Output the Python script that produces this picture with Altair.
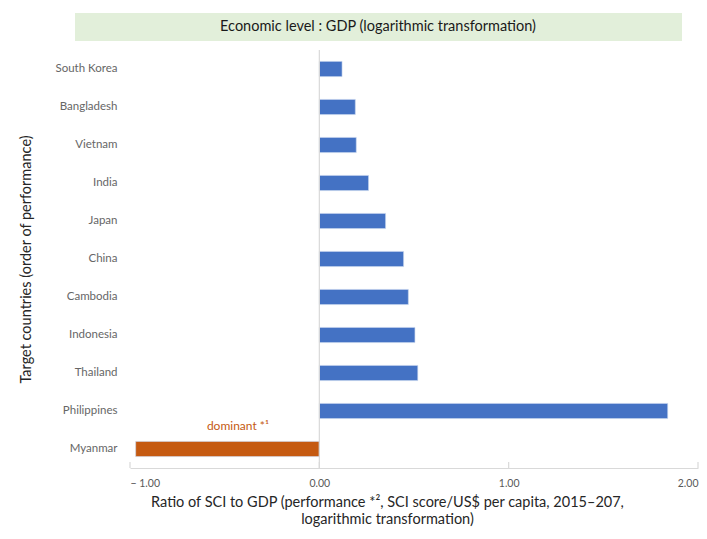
import altair as alt
import pandas as pd

countries = ["South Korea", "Bangladesh", "Vietnam", "India", "Japan", "China",
             "Cambodia", "Indonesia", "Thailand", "Philippines", "Myanmar"]
values = [0.12, 0.19, 0.195, 0.26, 0.35, 0.445, 0.47, 0.505, 0.52, 1.84, -0.97]
groups = ["other"] * 10 + ["dominant"]
x_ticks = [-1, 0, 1, 2]
annot_text = ["dominant *¹"]
annot_country = ["Myanmar"]
annot_x = [-0.43]
chart_title = "Economic level : GDP (logarithmic transformation)"
x_title = ["Ratio of SCI to GDP (performance *², SCI score/US$ per capita, 2015–207,",
           "logarithmic transformation)"]
y_title = "Target countries (order of performance)"

W, H = 568, 418
FONT = "Lato"

df = pd.DataFrame({"country": countries, "value": values, "group": groups})
ticks_df = pd.DataFrame({"value": x_ticks})
zero_df = pd.DataFrame({"value": [0]})
annot_df = pd.DataFrame({"text": annot_text, "country": annot_country, "value": annot_x})
one = pd.DataFrame({"title": [chart_title]})

xscale = alt.Scale(domain=[-1, 2], nice=False, zero=False)
yscale = alt.Scale(paddingInner=0.6, paddingOuter=0.3)

x_axis = alt.Axis(values=x_ticks, grid=False, ticks=False,
                  domainColor="#D9D9D9", domainWidth=1.2,
                  labelExpr="datum.value < 0 ? '− ' + format(abs(datum.value), '.2f') : format(datum.value, '.2f')",
                  labelFont=FONT, labelFontSize=10.5, labelColor="#595959", labelPadding=10,
                  title=x_title, titleFont=FONT, titleFontSize=14.5, titleFontWeight="normal",
                  titleColor="#262626", titlePadding=7, titleX=257, titleLineHeight=17)
y_axis = alt.Axis(domain=False, ticks=False, labelFont=FONT, labelFontSize=11.5,
                  labelColor="#666666", labelPadding=13,
                  title=y_title, titleFont=FONT, titleFontSize=14.5, titleFontWeight="normal",
                  titleColor="#262626", titlePadding=21)


def X():
    return alt.X("value:Q", scale=xscale, axis=x_axis)


def Y():
    return alt.Y("country:N", sort=countries, scale=yscale, axis=y_axis)


title_bg = alt.Chart(one).mark_rect(color="#E2EFDA").encode(
    x=alt.value(-55), x2=alt.value(552), y=alt.value(-37), y2=alt.value(-9)
)
title_txt = alt.Chart(one).mark_text(
    font=FONT, fontSize=14.5, color="#1a1a1a", baseline="middle", align="center"
).encode(x=alt.value(248), y=alt.value(-23), text="title:N")

zero_rule = alt.Chart(zero_df).mark_rule(color="#D9D9D9", strokeWidth=1.2).encode(
    x=X(), y=alt.value(0), y2=alt.value(H)
)

bars = alt.Chart(df).mark_bar(stroke="#c9d6ef", strokeWidth=0.6).encode(
    x=X(),
    y=Y(),
    color=alt.Color("group:N", scale=alt.Scale(domain=["other", "dominant"],
                                               range=["#4472C4", "#C55A11"]), legend=None),
)

tick_marks = alt.Chart(ticks_df).mark_rule(color="#D9D9D9", strokeWidth=1.2).encode(
    x=X(), y=alt.value(H - 6), y2=alt.value(H)
)

annot = alt.Chart(annot_df).mark_text(
    font=FONT, fontSize=12, color="#C55A11", dy=-23, align="center"
).encode(x=X(), y=Y(), text="text:N")

chart = alt.layer(bars, title_bg, title_txt, zero_rule, tick_marks, annot).properties(
    width=W, height=H,
    background="white",
    autosize=alt.AutoSizeParams(type="none"),
    padding={"left": 122, "top": 42, "right": 1, "bottom": 63},
).configure_view(stroke="transparent", strokeWidth=0)

chart.save("out.html", embed_options={"renderer": "svg", "actions": False})
